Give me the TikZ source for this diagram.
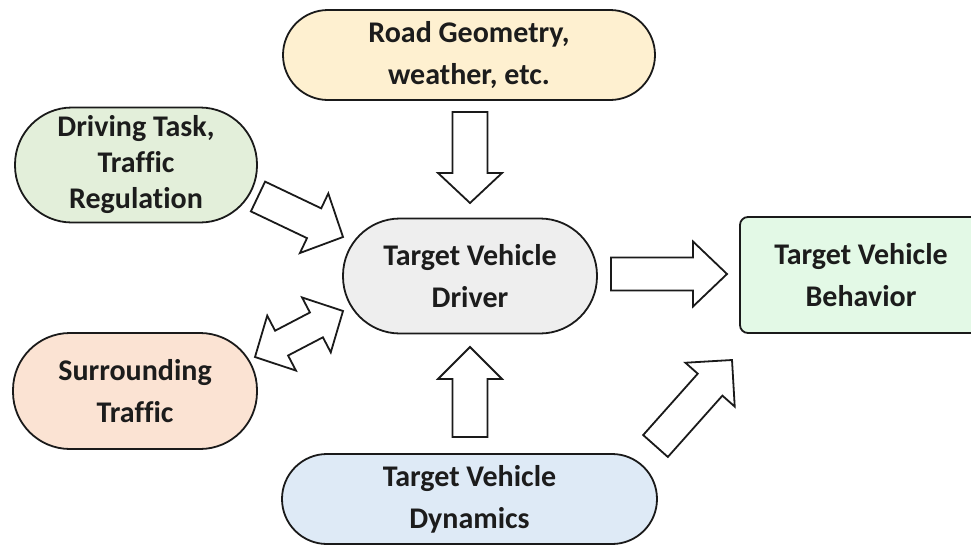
\documentclass[tikz,border=0pt]{standalone}
\usepackage{fontspec}
\setmainfont{Carlito}[Ligatures=NoCommon]
\usetikzlibrary{calc}

\definecolor{roadfill}{HTML}{FEF0D0}
\definecolor{taskfill}{HTML}{E3EFDA}
\definecolor{driverfill}{HTML}{EEEEEE}
\definecolor{behavfill}{HTML}{E3F9E6}
\definecolor{surrfill}{HTML}{FBE3D3}
\definecolor{dynfill}{HTML}{DEEAF6}
\definecolor{edge}{HTML}{1A1A1A}
\definecolor{ink}{HTML}{1C1C1C}

% hollow block arrow from #1 to #2: half shaft width #3, half head width #4, head length #5
\newcommand\blockarrow[5]{%
  \coordinate (bap) at ($(#2)!#5!(#1)$);
  \draw[blockarrowline]
    ($(#1)!#3!90:(#2)$) -- ($(bap)!#3!-90:(#1)$) -- ($(bap)!#4!-90:(#1)$) --
    (#2) -- ($(bap)!#4!90:(#1)$) -- ($(bap)!#3!90:(#1)$) --
    ($(#1)!#3!-90:(#2)$) -- cycle;
}
% hollow double-headed block arrow between #1 and #2
\newcommand\blockarrowboth[5]{%
  \coordinate (bpa) at ($(#1)!#5!(#2)$);
  \coordinate (bpb) at ($(#2)!#5!(#1)$);
  \draw[blockarrowline]
    (#1) -- ($(bpa)!#4!90:(#2)$) -- ($(bpa)!#3!90:(#2)$) --
    ($(bpb)!#3!-90:(#1)$) -- ($(bpb)!#4!-90:(#1)$) -- (#2) --
    ($(bpb)!#4!90:(#1)$) -- ($(bpb)!#3!90:(#1)$) --
    ($(bpa)!#3!-90:(#2)$) -- ($(bpa)!#4!-90:(#2)$) -- cycle;
}

\tikzset{
  box/.style={draw=edge, line width=1.8pt, align=center, text=ink,
    font=\bfseries\fontsize{30}{42}\selectfont, inner sep=0pt},
  pill/.style={box, rounded corners=#1},
  blockarrowline/.style={draw=edge, fill=white, line width=1.8pt, line join=miter},
}

\begin{document}
\begin{tikzpicture}[x=1pt,y=-1pt]
\useasboundingbox (0,0) rectangle (971,544);
\clip (0,0) rectangle (971,544);

% boxes
\node[pill=45pt, fill=roadfill, minimum width=372pt, minimum height=90pt]
  (road) at (469,55) {Road Geometry,\\weather, etc.};
\node[pill=57pt, fill=taskfill, minimum width=242pt, minimum height=115pt,
  font=\bfseries\fontsize{30}{36}\selectfont]
  (task) at (136,165) {Driving Task,\\Traffic\\Regulation};
\node[pill=57pt, fill=driverfill, minimum width=254pt, minimum height=115pt]
  (driver) at (470,276) {Target Vehicle\\Driver};
\node[box, rounded corners=8pt, fill=behavfill, minimum width=242pt, minimum height=116pt]
  (behav) at (861,275) {Target Vehicle\\Behavior};
\node[pill=57pt, fill=surrfill, minimum width=244pt, minimum height=116pt]
  (surr) at (135,391) {Surrounding\\Traffic};
\node[pill=45pt, fill=dynfill, minimum width=375pt, minimum height=90pt]
  (dyn) at (469.5,499) {Target Vehicle\\Dynamics};

% arrow end points
\coordinate (roadout) at (470,112);
\coordinate (drivertop) at (470,203);
\coordinate (dynout) at (470,437);
\coordinate (driverbot) at (470,347);
\coordinate (driverout) at (611,274);
\coordinate (behavin) at (727,274);
\coordinate (taskout) at (258,196.5);
\coordinate (driverleft) at (343,237);
\coordinate (surrend) at (255,357);
\coordinate (driverend) at (343,311);
\coordinate (dynright) at (655.5,446);
\coordinate (behavlow) at (732,360);

% connectors
\blockarrow{roadout}{drivertop}{17.5pt}{32pt}{30pt}
\blockarrow{dynout}{driverbot}{17.5pt}{32pt}{32pt}
\blockarrow{driverout}{behavin}{16.5pt}{32.5pt}{34pt}
\blockarrow{taskout}{driverleft}{16.5pt}{33pt}{32pt}
\blockarrow{dynright}{behavlow}{16.5pt}{33pt}{33pt}
\blockarrowboth{surrend}{driverend}{14pt}{31pt}{30pt}
\end{tikzpicture}
\end{document}
